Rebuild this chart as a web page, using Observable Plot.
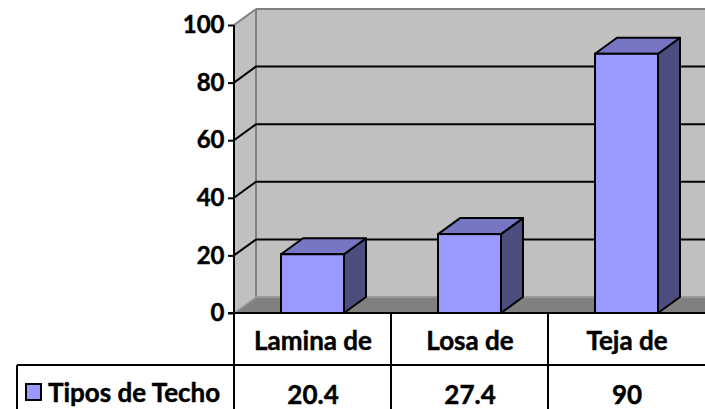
<!DOCTYPE html>
<html><head><meta charset="utf-8">
<script src="https://cdn.jsdelivr.net/npm/d3@7"></script>
<script src="https://cdn.jsdelivr.net/npm/@observablehq/plot@0.6"></script>
<style>
html,body{margin:0;padding:0;background:#fff;overflow:hidden;}
#chart svg{display:block;}
#chart svg text{stroke:#000;stroke-width:0.45px;}
</style></head><body><div id="chart"></div>
<script>
const categories = ["Lamina de", "Losa de", "Teja de"];
const values = [20.4, 27.4, 90];
const valueLabels = ["20.4", "27.4", "90"];
const seriesName = "Tipos de Techo";
const yTicks = [0, 20, 40, 60, 80, 100];
const gridTicks = [20, 40, 60, 80];

const data = categories.map((c, i) => ({category: c, value: values[i], label: valueLabels[i]}));

const DX = 22, DY = -16;
const FONT = "Lato, 'Open Sans', sans-serif";
const W = 705, H = 409;
const ROW1 = 52;        // height of category row in the data table
const LEGEND_LEFT = 17; // left border of legend cell

function bw(x) { return x.bandwidth ? x.bandwidth() : 0; }
function stepOf(x) { return x.step ? x.step() : 0; }

function poly(g, pts, fill, stroke, sw) {
  g.append("path")
    .attr("d", "M" + pts.map(p => p.join(",")).join("L") + "Z")
    .attr("fill", fill).attr("stroke", stroke || "none").attr("stroke-width", sw || 0)
    .attr("stroke-linejoin", "round");
}
function line(g, x1, y1, x2, y2, stroke, sw) {
  g.append("line").attr("x1", x1).attr("y1", y1).attr("x2", x2).attr("y2", y2)
    .attr("stroke", stroke).attr("stroke-width", sw);
}

// back wall, side wall, floor, gridlines
function walls(index, scales, vals, dims) {
  const {y} = scales;
  const g = d3.create("svg:g");
  const x0 = dims.marginLeft, xr = dims.width;
  const yb = y(0), yt = y(d3.max(yTicks));
  poly(g, [[x0, yt], [x0 + DX, yt + DY], [x0 + DX, yb + DY], [x0, yb]], "#c0c0c0");
  poly(g, [[x0 + DX, yt + DY], [xr, yt + DY], [xr, yb + DY], [x0 + DX, yb + DY]], "#c0c0c0");
  poly(g, [[x0, yb], [x0 + DX, yb + DY], [xr, yb + DY], [xr, yb]], "#808080");
  line(g, x0, yt, x0 + DX, yt + DY, "#808080", 2);
  line(g, x0 + DX, yt + DY, xr, yt + DY, "#808080", 2);
  line(g, x0 + DX, yt + DY, x0 + DX, yb + DY, "#808080", 2);
  line(g, x0 + DX, yb + DY, xr, yb + DY, "#9a9a9a", 2);
  line(g, x0, yb, x0 + DX, yb + DY, "#a0a0a0", 1.5);
  for (const t of gridTicks) {
    const yy = y(t);
    g.append("path").attr("d", `M${x0},${yy}L${x0 + DX},${yy + DY}L${xr},${yy + DY}`)
      .attr("fill", "none").attr("stroke", "#000").attr("stroke-width", 2);
  }
  return g.node();
}

// top and right faces of each bar
function barFaces(index, scales, vals, dims) {
  const {x, y} = scales;
  const g = d3.create("svg:g");
  const b = bw(x);
  for (const d of data) {
    const xl = x(d.category), xrr = xl + b;
    const yt = y(d.value), yb = y(0);
    poly(g, [[xrr, yt], [xrr + DX, yt + DY], [xrr + DX, yb + DY], [xrr, yb]], "#4d4d80", "#000", 2);
    poly(g, [[xl, yt], [xl + DX, yt + DY], [xrr + DX, yt + DY], [xrr, yt]], "#7676c4", "#000", 2);
  }
  return g.node();
}

// front axis line and data table grid, with legend key
function table(index, scales, vals, dims) {
  const {x, y} = scales;
  const g = d3.create("svg:g");
  const x0 = dims.marginLeft, xr = dims.width, h = dims.height;
  const yb = y(0), yt = y(d3.max(yTicks));
  const s = stepOf(x);
  const rowY = yb + ROW1;
  line(g, x0, yt, x0, h, "#000", 2);
  line(g, x0 - 6, yb, xr, yb, "#000", 2);
  line(g, LEGEND_LEFT, rowY, xr, rowY, "#000", 2);
  line(g, LEGEND_LEFT, rowY, LEGEND_LEFT, h, "#000", 2);
  for (let i = 1; i < categories.length; i++) line(g, x0 + i * s, yb, x0 + i * s, h, "#000", 2);
  const cy = (rowY + h) / 2 + 6;
  g.append("rect").attr("x", LEGEND_LEFT + 9).attr("y", cy - 9).attr("width", 15).attr("height", 16)
    .attr("fill", "#9999ff").attr("stroke", "#000").attr("stroke-width", 2);
  g.append("text").attr("x", LEGEND_LEFT + 31).attr("y", cy).attr("dy", "0.35em")
    .attr("text-anchor", "start")
    .attr("font-family", FONT).attr("font-size", 26).attr("font-weight", "bold").attr("fill", "#000")
    .text(seriesName);
  return g.node();
}

const chart = Plot.plot({
  width: W,
  height: H,
  marginLeft: 234,
  marginRight: 0,
  marginTop: 25,
  marginBottom: 96,
  style: {fontFamily: FONT, fontSize: "26px", fontWeight: "bold", color: "#000", background: "#fff", overflow: "hidden"},
  x: {domain: categories, paddingInner: 0.6, paddingOuter: 0.3, axis: null},
  y: {domain: [0, 100], axis: null},
  marks: [
    walls,
    barFaces,
    Plot.barY(data, {x: "category", y: "value", fill: "#9999ff", stroke: "#000", strokeWidth: 2}),
    table,
    Plot.axisY(yTicks, {tickSize: 6, tickPadding: 4, strokeWidth: 2, label: null, fontSize: 24, fontWeight: "bold", fill: "#000"}),
    Plot.text(data, {x: "category", y: 0, dy: 28, text: "category", fontSize: 26, fontWeight: "bold", fill: "#000"}),
    Plot.text(data, {x: "category", y: 0, dy: 82, text: "label", fontSize: 26, fontWeight: "bold", fill: "#000"})
  ]
});
document.getElementById("chart").appendChild(chart);
</script>
</body></html>
